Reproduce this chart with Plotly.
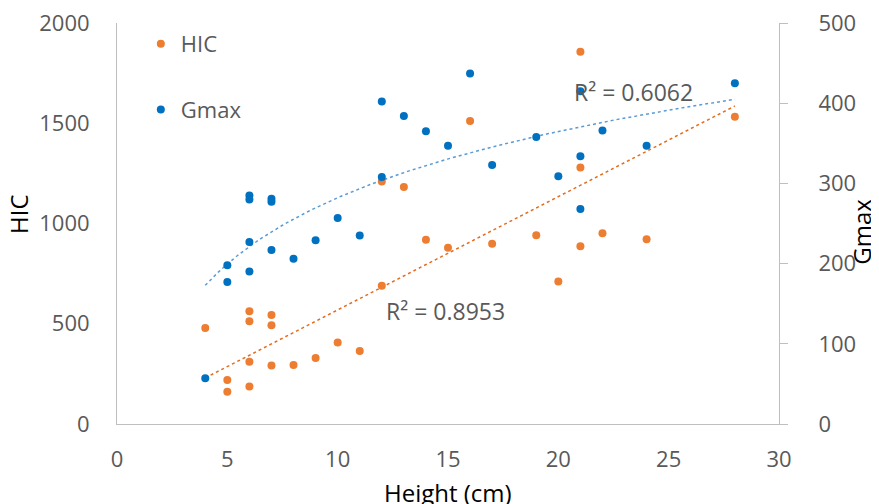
import numpy as np
import plotly.graph_objects as go

# Data
height_cm = [4, 5, 5, 6, 6, 6, 6, 7, 7, 7, 8, 9, 10, 11, 12, 12, 13, 14, 15, 16, 17, 19, 20, 21, 21, 21, 22, 24, 28]
hic = [479, 219, 161, 562, 512, 311, 187, 544, 492, 292, 294, 329, 407, 364, 689, 1209, 1182, 919, 879, 1511, 899, 942, 711, 1856, 1279, 887, 951, 922, 1532]
gmax = [57, 198, 177, 285, 280, 227, 190, 281, 277, 217, 206, 229, 257, 235, 402, 308, 384, 365, 347, 437, 323, 358, 309, 415, 334, 268, 366, 347, 425]

# Trendline parameters (Excel trendlines)
hic_trend_slope = 56.5       # linear: HIC = slope * h + intercept
hic_trend_intercept = 4.0
gmax_trend_a = 119.2         # logarithmic: Gmax = a * ln(h) + b
gmax_trend_b = 7.7

r2_hic_label = "R² = 0.8953"
r2_gmax_label = "R² = 0.6062"

x_ticks = [0, 5, 10, 15, 20, 25, 30]
hic_ticks = [0, 500, 1000, 1500, 2000]
gmax_ticks = [0, 100, 200, 300, 400, 500]

ORANGE = "#ED7D31"
ORANGE_TREND = "#E46C1E"
BLUE = "#0070C0"
BLUE_TREND = "#5B9BD5"
GREY = "#595959"
AXIS = "#BFBFBF"
FONT = "Open Sans"

x = np.array(height_cm, dtype=float)
xt = np.linspace(x.min(), x.max(), 200)

fig = go.Figure()
fig.add_trace(go.Scatter(
    x=xt, y=hic_trend_slope * xt + hic_trend_intercept, mode="lines",
    showlegend=False, hoverinfo="skip",
    line=dict(color=ORANGE_TREND, width=1.5, dash="dot"), yaxis="y"))
fig.add_trace(go.Scatter(
    x=xt, y=gmax_trend_a * np.log(xt) + gmax_trend_b, mode="lines",
    showlegend=False, hoverinfo="skip",
    line=dict(color=BLUE_TREND, width=1.5, dash="dot"), yaxis="y2"))
fig.add_trace(go.Scatter(
    x=height_cm, y=hic, mode="markers", name="HIC", legendgroup="a",
    marker=dict(color=ORANGE, size=8), yaxis="y"))
fig.add_trace(go.Scatter(
    x=height_cm, y=gmax, mode="markers", name="Gmax", legendgroup="b",
    marker=dict(color=BLUE, size=8), yaxis="y2"))

fig.update_layout(
    width=879, height=504,
    margin=dict(l=109, r=108, t=15, b=88),
    paper_bgcolor="white", plot_bgcolor="white",
    font=dict(family=FONT, color=GREY, size=22),
    xaxis=dict(range=[0, 30], tickvals=x_ticks, showgrid=False, zeroline=False,
               showline=True, linecolor=AXIS, linewidth=1, ticks="",
               automargin=False, ticklabeloverflow="allow",
               ticklabelstandoff=16, tickfont=dict(size=22, color=GREY)),
    yaxis=dict(range=[0, 2000], tickvals=hic_ticks, showgrid=False, zeroline=False,
               showline=True, linecolor=AXIS, linewidth=1, ticks="",
               automargin=False, ticklabeloverflow="allow",
               ticklabelstandoff=22, tickfont=dict(size=22, color=GREY)),
    yaxis2=dict(range=[0, 500], tickvals=gmax_ticks, overlaying="y", side="right",
                showgrid=False, zeroline=False, showline=True, linecolor=AXIS,
                linewidth=1, ticks="outside", ticklen=8, tickcolor=AXIS,
                automargin=False, ticklabeloverflow="allow",
                ticklabelstandoff=26, tickfont=dict(size=22, color=GREY)),
    legend=dict(x=0.036, y=1.0, xanchor="left", yanchor="top",
                font=dict(size=22, color=GREY), tracegroupgap=34,
                bgcolor="rgba(0,0,0,0)"),
    showlegend=True,
)

fig.add_annotation(text="HIC", xref="paper", yref="paper", x=-0.148, y=0.524,
                   xanchor="center", yanchor="middle",
                   textangle=-90, showarrow=False, font=dict(size=24, color="black"))
fig.add_annotation(text="Gmax", xref="paper", yref="paper", x=1.125, y=0.479,
                   xanchor="center", yanchor="middle",
                   textangle=-90, showarrow=False, font=dict(size=24, color="black"))
fig.add_annotation(text="Height (cm)", xref="paper", yref="paper", x=0.5, y=-0.17,
                   xanchor="center", yanchor="middle",
                   showarrow=False, font=dict(size=24, color="black"))
fig.add_annotation(text=r2_gmax_label, x=23.4, y=1655, xref="x", yref="y",
                   xanchor="center", yanchor="middle",
                   showarrow=False, font=dict(size=23, color=GREY))
fig.add_annotation(text=r2_hic_label, x=14.9, y=565, xref="x", yref="y",
                   xanchor="center", yanchor="middle",
                   showarrow=False, font=dict(size=23, color=GREY))

fig.write_html("out.html")
